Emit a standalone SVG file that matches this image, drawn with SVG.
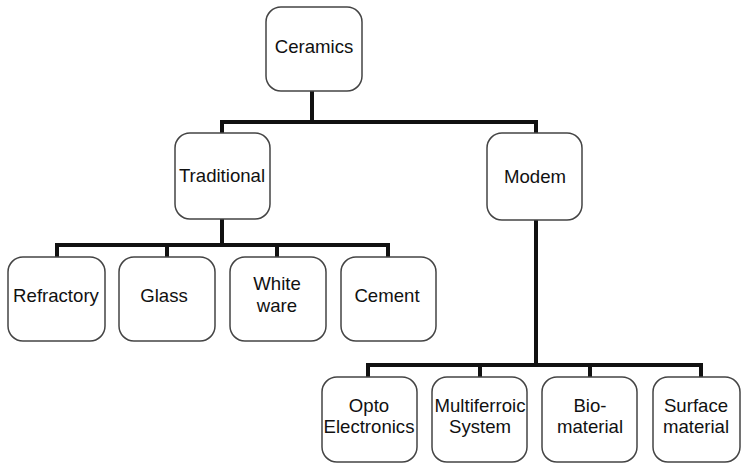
<svg xmlns="http://www.w3.org/2000/svg" width="741" height="464" viewBox="0 0 741 464">
  <style>
    .box { fill: #fff; stroke: #444; stroke-width: 1.5; }
    .lbl { font-family: "Liberation Sans", Arial, sans-serif; font-size: 18.6px; fill: #111; text-anchor: middle; }
    .wire { fill: none; stroke: #111; stroke-width: 4; stroke-linejoin: miter; }
  </style>
  <rect width="741" height="464" fill="#fff"/>

  <!-- connectors -->
  <g id="connectors">
    <path class="wire" d="M312 91 V122"/>
    <path class="wire" d="M222 133 V122 H536 V133"/>
    <path class="wire" d="M222 219 V245"/>
    <path class="wire" d="M57 257 V245 H388 V257"/>
    <path class="wire" d="M167 245 V257"/>
    <path class="wire" d="M277 245 V257"/>
    <path class="wire" d="M536 220 V365"/>
    <path class="wire" d="M368 377 V365 H701 V377"/>
    <path class="wire" d="M480 365 V377"/>
    <path class="wire" d="M590 365 V377"/>
  </g>

  <!-- root -->
  <g id="ceramics">
    <rect class="box" x="266" y="7" width="96" height="84" rx="15"/>
    <text class="lbl" x="314" y="53">Ceramics</text>
  </g>

  <!-- second level -->
  <g id="traditional">
    <rect class="box" x="175" y="133" width="95" height="86" rx="15"/>
    <text class="lbl" x="222" y="182">Traditional</text>
  </g>
  <g id="modern">
    <rect class="box" x="487" y="133" width="95" height="87" rx="15"/>
    <text class="lbl" x="535" y="183">Modem</text>
  </g>

  <!-- traditional branch -->
  <g id="refractory">
    <rect class="box" x="8" y="257" width="97" height="84" rx="15"/>
    <text class="lbl" x="56" y="302">Refractory</text>
  </g>
  <g id="glass">
    <rect class="box" x="119" y="257" width="96" height="84" rx="15"/>
    <text class="lbl" x="164" y="302">Glass</text>
  </g>
  <g id="whiteware">
    <rect class="box" x="230" y="257" width="96" height="84" rx="15"/>
    <text class="lbl" x="277" y="290">White</text>
    <text class="lbl" x="277" y="312">ware</text>
  </g>
  <g id="cement">
    <rect class="box" x="341" y="257" width="95" height="84" rx="15"/>
    <text class="lbl" x="387" y="302">Cement</text>
  </g>

  <!-- modern branch -->
  <g id="optoelectronics">
    <rect class="box" x="322" y="377" width="95" height="85" rx="15"/>
    <text class="lbl" x="369" y="412">Opto</text>
    <text class="lbl" x="369" y="433">Electronics</text>
  </g>
  <g id="multiferroic">
    <rect class="box" x="432" y="377" width="95" height="85" rx="15"/>
    <text class="lbl" x="480" y="412">Multiferroic</text>
    <text class="lbl" x="480" y="433">System</text>
  </g>
  <g id="biomaterial">
    <rect class="box" x="542" y="377" width="95" height="85" rx="15"/>
    <text class="lbl" x="590" y="412">Bio-</text>
    <text class="lbl" x="590" y="433">material</text>
  </g>
  <g id="surface">
    <rect class="box" x="653" y="377" width="87" height="85" rx="15"/>
    <text class="lbl" x="696" y="412">Surface</text>
    <text class="lbl" x="696" y="433">material</text>
  </g>
</svg>
